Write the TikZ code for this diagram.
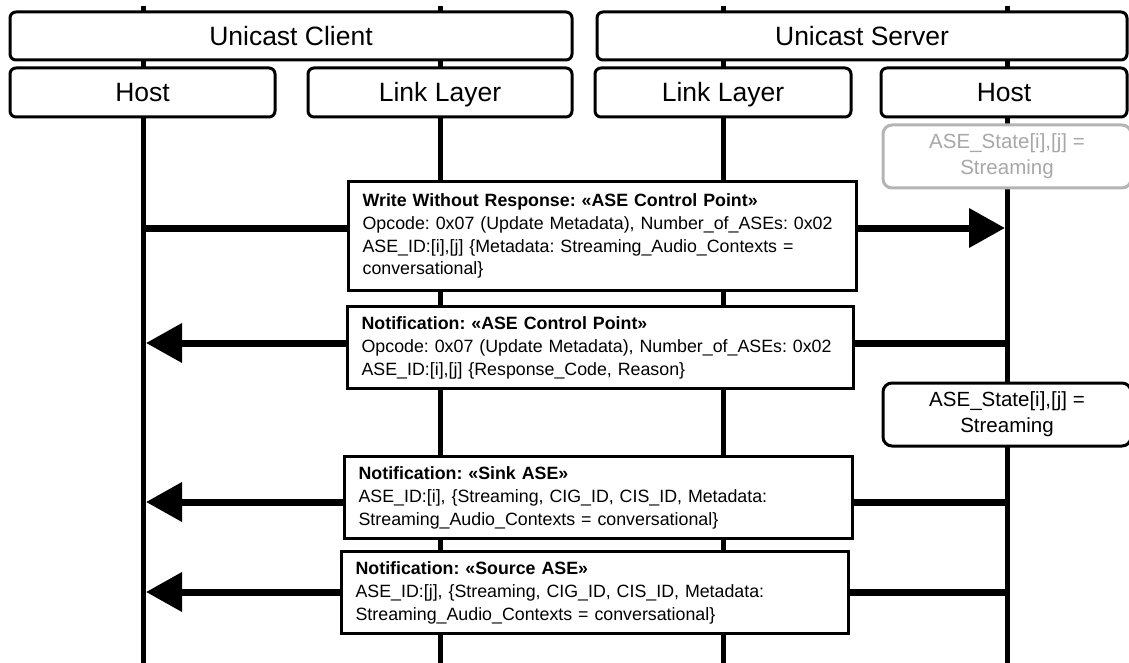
\documentclass[tikz,border=0pt]{standalone}
\usepackage{fontspec}
\setmainfont{Liberation Sans}
\usetikzlibrary{arrows.meta}
\frenchspacing
\definecolor{greyline}{HTML}{B4B4B4}
\definecolor{greytext}{HTML}{A8A8A8}
\tikzset{
  hdr/.style={draw, line width=3pt, rounded corners=6pt, fill=white, inner sep=0pt,
    font=\fontsize{26.5}{30}\selectfont, text height=19pt, text depth=0pt},
  life/.style={line width=5pt},
  msg/.style={line width=7pt},
  msgtip/.style={-{Triangle[length=36pt,width=38pt]}},
  msgbox/.style={draw, line width=3.2pt, fill=white, anchor=north west, inner xsep=14pt,
    inner ysep=0pt, align=left, font=\frenchspacing\fontsize{17.8}{22.8}\selectfont},
  statebox/.style={draw, line width=3pt, rounded corners=9pt, fill=white, inner sep=0pt,
    align=center, font=\fontsize{20.5}{26}\selectfont},
}
\begin{document}
\begin{tikzpicture}[x=1pt,y=-1pt]
\useasboundingbox (0,0) rectangle (1129,663);
\clip (0,0) rectangle (1129,663);
\fill[white] (0,0) rectangle (1129,663);

% lifelines
\coordinate (hcT) at (143,6);  \coordinate (hcB) at (143,670);
\coordinate (lcT) at (440,6);  \coordinate (lcB) at (440,670);
\coordinate (lsT) at (723,6);  \coordinate (lsB) at (723,670);
\coordinate (hsT) at (1007,6); \coordinate (hsB) at (1007,670);
\draw[life] (hcT) -- (hcB);
\draw[life] (lcT) -- (lcB);
\draw[life] (lsT) -- (lsB);
\draw[life] (hsT) -- (hsB);

% message arrows
\coordinate (w1) at (143,228);  \coordinate (w2) at (1005,228);
\coordinate (n1s) at (1007,343); \coordinate (n1e) at (146,343);
\coordinate (n2s) at (1007,502); \coordinate (n2e) at (146,502);
\coordinate (n3s) at (1007,592); \coordinate (n3e) at (146,592);
\draw[msg,msgtip] (w1) -- (w2);
\draw[msg,msgtip] (n1s) -- (n1e);
\draw[msg,msgtip] (n2s) -- (n2e);
\draw[msg,msgtip] (n3s) -- (n3e);

% headers
\node[hdr, minimum width=562pt, minimum height=48pt] (uclient) at (291,36) {Unicast Client};
\node[hdr, minimum width=530pt, minimum height=48pt] (userver) at (862,36) {Unicast Server};
\node[hdr, minimum width=265pt, minimum height=49pt] (hostc) at (142.5,92.5) {Host};
\node[hdr, minimum width=264pt, minimum height=49pt] (llc) at (440,92.5) {Link Layer};
\node[hdr, minimum width=256pt, minimum height=49pt] (lls) at (723,92.5) {Link Layer};
\node[hdr, minimum width=246pt, minimum height=49pt] (hosts) at (1004,92.5) {Host};

% states
\node[statebox, draw=greyline, text=greytext, minimum width=248pt, minimum height=63pt] (st1) at (1007,156.5) {ASE\_State[i],[j] =\\ Streaming};
\node[statebox, minimum width=248pt, minimum height=63pt] (st2) at (1007,414.5) {ASE\_State[i],[j] =\\ Streaming};

% message boxes
\node[msgbox, minimum width=508pt, minimum height=109pt, text width=480pt] (write) at (347,180)
 {\textbf{Write Without Response: «ASE Control Point»}\\ Opcode: 0x07 (Update Metadata), Number\_of\_ASEs: 0x02\\ ASE\_ID:[i],[j] \{Metadata: Streaming\_Audio\_Contexts =\\ conversational\}};
\node[msgbox, minimum width=506pt, minimum height=82pt, text width=478pt] (ncp) at (346,305)
 {\textbf{Notification: «ASE Control Point»}\\ Opcode: 0x07 (Update Metadata), Number\_of\_ASEs: 0x02\\ ASE\_ID:[i],[j] \{Response\_Code, Reason\}};
\node[msgbox, minimum width=508pt, minimum height=82pt, text width=480pt] (sink) at (343,455)
 {\textbf{Notification: «Sink ASE»}\\ ASE\_ID:[i], \{Streaming, CIG\_ID, CIS\_ID, Metadata:\\ Streaming\_Audio\_Contexts = conversational\}};
\node[msgbox, minimum width=507pt, minimum height=82pt, text width=479pt] (source) at (340,550)
 {\textbf{Notification: «Source ASE»}\\ ASE\_ID:[j], \{Streaming, CIG\_ID, CIS\_ID, Metadata:\\ Streaming\_Audio\_Contexts = conversational\}};
\end{tikzpicture}
\end{document}
